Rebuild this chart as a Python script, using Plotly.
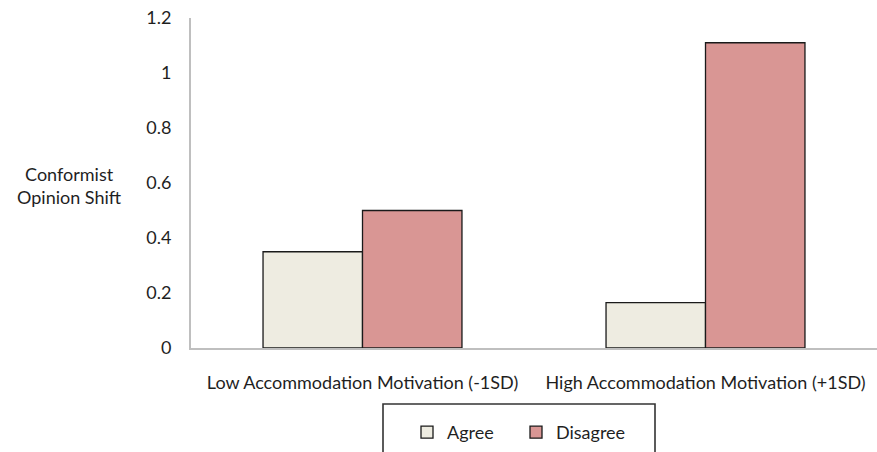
import plotly.graph_objects as go

# Conformist opinion shift by accommodation motivation and agreement condition
categories = ["Low Accommodation Motivation (-1SD)", "High Accommodation Motivation (+1SD)"]
agree = [0.35, 0.165]
disagree = [0.50, 1.11]
y_ticks = [0, 0.2, 0.4, 0.6, 0.8, 1.0, 1.2]
y_tick_labels = ["0", "0.2", "0.4", "0.6", "0.8", "1", "1.2"]

FONT = "Lato, 'Open Sans', sans-serif"
FS = 18
TXT = "#1f1f1f"
W, H = 877, 452
ML, MR, MT, MB = 191, 0, 18, 104
plot_w = W - ML - MR
plot_h = H - MT - MB


def px_x(x):
    return (x - ML) / plot_w


def px_y(y):
    return (H - MB - y) / plot_h


fig = go.Figure()
fig.add_trace(go.Bar(
    x=categories, y=agree, name="Agree",
    marker=dict(color="#EEECE1", line=dict(color="#1a1a1a", width=1.3)),
))
fig.add_trace(go.Bar(
    x=categories, y=disagree, name="Disagree",
    marker=dict(color="#D99694", line=dict(color="#1a1a1a", width=1.3)),
))

# legend frame
fig.add_shape(type="rect", xref="paper", yref="paper",
              x0=px_x(383), x1=px_x(655), y0=px_y(404), y1=px_y(475),
              line=dict(color="#333333", width=1.6), fillcolor="white", layer="below")

# y-axis title, drawn horizontally to the left of the ticks
fig.add_annotation(text="Conformist<br>Opinion Shift", xref="paper", yref="paper",
                   x=px_x(70), y=px_y(185), xanchor="center", yanchor="middle",
                   showarrow=False, font=dict(family=FONT, size=FS, color=TXT))

fig.update_layout(
    width=W, height=H,
    margin=dict(l=ML, r=MR, t=MT, b=MB, autoexpand=False),
    paper_bgcolor="white", plot_bgcolor="white",
    barmode="group", bargap=0.42, bargroupgap=0,
    font=dict(family=FONT, size=FS, color=TXT),
    showlegend=True,
    legend=dict(orientation="h", x=px_x(407), y=px_y(414), xanchor="left", yanchor="top",
                bgcolor="rgba(0,0,0,0)", borderwidth=0,
                entrywidth=64, entrywidthmode="pixels",
                font=dict(family=FONT, size=FS, color=TXT)),
    xaxis=dict(showline=True, linecolor="#BFBFBF", linewidth=2, showgrid=False,
               ticks="", ticklabelstandoff=17, tickfont=dict(size=FS)),
    yaxis=dict(range=[0, 1.2], showline=True, linecolor="#BFBFBF", linewidth=2,
               showgrid=False, zeroline=False, ticks="",
               tickvals=y_ticks, ticktext=y_tick_labels, ticklabelstandoff=14,
               tickfont=dict(size=FS)),
)

fig.write_html("out.html")
